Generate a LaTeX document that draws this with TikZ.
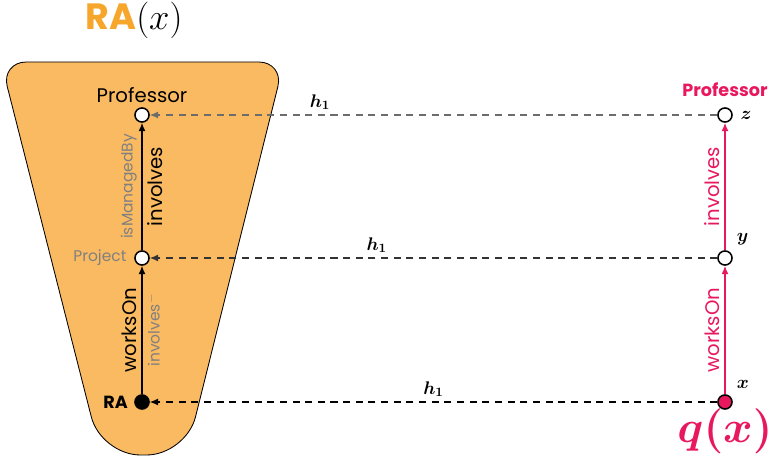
\documentclass[tikz,border=0pt]{standalone}
\usepackage{fix-cm}
\usepackage{fontspec}
\usepackage{amsmath,bm}
\usetikzlibrary{arrows.meta,positioning}
\newfontfamily\poppins{Poppins}
\definecolor{mfill}{RGB}{250,186,98}
\definecolor{mtitle}{RGB}{247,166,44}
\definecolor{mpink}{RGB}{232,24,94}

\begin{document}
\begin{tikzpicture}[x=0.025cm, y=-0.025cm, >={Latex[length=6pt,width=5pt]}]
  \tikzset{vert/.style={draw,circle,line width=1.1pt,inner sep=0pt,minimum size=10pt,fill=#1}}
  \tikzset{hom/.style={->,dashed,dash pattern=on 5pt off 4pt,line width=0.8pt}}
  \tikzset{role/.style={->,line width=0.9pt}}
  \tikzset{lab/.style={font=\poppins\fontsize{14}{16}\selectfont}}
  \tikzset{bold lab/.style={font=\poppins\bfseries\fontsize{12.5}{15}\selectfont}}
  \tikzset{small lab/.style={font=\poppins\fontsize{11}{13}\selectfont,text=gray}}
  \tikzset{var/.style={font=\fontsize{13}{15}\selectfont,text=black}}
  \useasboundingbox (0,0) rectangle (771,464);

  % the query
  \draw[fill=mfill, line width=0.6pt] (143,62) [rounded corners=18pt] -- (284,62) [rounded corners=28pt] -- (186,455) -- (101,455) [rounded corners=18pt] -- (1,62) -- cycle;
  \node[font=\poppins\bfseries\fontsize{26}{30}\selectfont] (title) at (134,20) {\textcolor{mtitle}{RA}$(x)$};

  \node[vert=white] (prof) at (142,115) {};
  \node[vert=white] (proj) at (142,258) {};
  \node[vert=black] (ra) at (142,402) {};
  \node[lab, above=0pt of prof] (proflab) {Professor};
  \node[small lab, left=2pt of proj] (projlab) {Project};
  \node[bold lab, left=1pt of ra] (ralab) {RA};

  \draw[role] (ra) -- (proj) node[lab, midway, sloped, above] {worksOn} node[small lab, midway, sloped, below] {involves$^{-}$};
  \draw[role] (proj) -- (prof) node[small lab, midway, sloped, above] {isManagedBy} node[lab, midway, sloped, below] {involves};

  % the target
  \node[vert=white] (z) at (725,115) {};
  \node[vert=white] (y) at (725,258) {};
  \node[vert=mpink] (x) at (725,402) {};
  \node[bold lab, text=mpink, above=4pt of z] (zlab) {Professor};
  \node[var, right=2pt of z] {$\bm{z}$};
  \node[var, above right=2pt and 1pt of y] {$\bm{y}$};
  \node[var, above right=2pt and 1pt of x] {$\bm{x}$};
  \node[text=mpink, font=\fontsize{32}{36}\selectfont, below=-4pt of x] (qlab) {$\bm{q(x)}$};

  \draw[role, mpink] (x) -- (y) node[lab, midway, sloped, above] {worksOn};
  \draw[role, mpink] (y) -- (z) node[lab, midway, sloped, above] {involves};

  % h_1
  \draw[hom, gray!85!black] (z) -- (prof) node[var, pos=0.7, above] {$\bm{h_1}$};
  \draw[hom, black!80] (y) -- (proj) node[var, pos=0.6, above] {$\bm{h_1}$};
  \draw[hom, black] (x) -- (ra) node[var, pos=0.5, above] {$\bm{h_1}$};
\end{tikzpicture}
\end{document}
